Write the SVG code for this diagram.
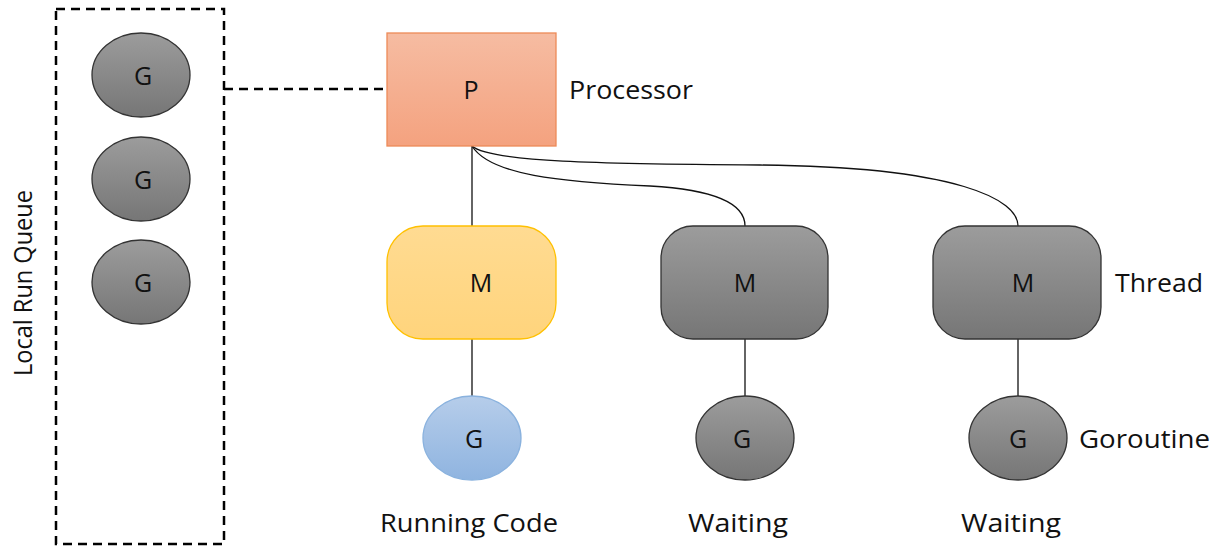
<svg xmlns="http://www.w3.org/2000/svg" width="1219" height="548" viewBox="0 0 1219 548">
<style>
text{font-family:"Open Sans","Noto Sans","Liberation Sans",sans-serif;fill:#111}
.in{font-size:25px;text-anchor:middle;dominant-baseline:central}
.lbl{font-size:25px;dominant-baseline:central}
.gray{fill:url(#gGray);stroke:#333;stroke-width:1.3}
.conn{fill:none;stroke:#111;stroke-width:1.3}
.dash{fill:none;stroke:#000;stroke-width:2.5;stroke-dasharray:9,6}
</style>
<defs>
<linearGradient id="gGray" x1="0" y1="0" x2="0" y2="1"><stop offset="0" stop-color="#9c9c9c"/><stop offset="1" stop-color="#767676"/></linearGradient>
<linearGradient id="gP" x1="0" y1="0" x2="0" y2="1"><stop offset="0" stop-color="#f6bca2"/><stop offset="1" stop-color="#f4a27f"/></linearGradient>
<linearGradient id="gY" x1="0" y1="0" x2="0" y2="1"><stop offset="0" stop-color="#ffdb92"/><stop offset="1" stop-color="#ffd47c"/></linearGradient>
<linearGradient id="gB" x1="0" y1="0" x2="0" y2="1"><stop offset="0" stop-color="#b6cdea"/><stop offset="1" stop-color="#8fb4e0"/></linearGradient>
</defs>
<g id="connectors">
<path class="dash" d="M224,89 H388"/>
<path class="conn" d="M472,146 V226"/>
<path class="conn" d="M472,146 C490,175 560,182 650,186 C720,190 745,205 745,226"/>
<path class="conn" d="M472,146 C490,162 600,164 760,165 C960,167 1018,200 1018,226"/>
<path class="conn" d="M472,339 V396"/>
<path class="conn" d="M745,339 V396"/>
<path class="conn" d="M1018,339 V396"/>
</g>
<g id="queue">
<rect class="dash" x="56" y="9" width="168" height="535"/>
<text class="lbl" transform="translate(22,283) rotate(-90)" text-anchor="middle" textLength="186" lengthAdjust="spacingAndGlyphs">Local Run Queue</text>
</g>
<g id="q1"><ellipse class="gray" cx="141" cy="75" rx="49" ry="42"/><text class="in" x="143" y="75">G</text></g>
<g id="q2"><ellipse class="gray" cx="141" cy="179" rx="49" ry="42"/><text class="in" x="143" y="179">G</text></g>
<g id="q3"><ellipse class="gray" cx="141" cy="282" rx="49" ry="42"/><text class="in" x="143" y="282">G</text></g>
<g id="P"><rect x="387" y="33" width="169" height="113" fill="url(#gP)" stroke="#ed8a58" stroke-width="1.3"/><text class="in" x="471" y="89">P</text><text class="lbl" x="569" y="89" textLength="124" lengthAdjust="spacingAndGlyphs">Processor</text></g>
<g id="M1"><rect x="387" y="226" width="169" height="113" rx="36" fill="url(#gY)" stroke="#ffc000" stroke-width="1.3"/><text class="in" x="481" y="282">M</text></g>
<g id="M2"><rect class="gray" x="661" y="226" width="167" height="113" rx="32"/><text class="in" x="745" y="282">M</text></g>
<g id="M3"><rect class="gray" x="933" y="226" width="168" height="113" rx="32"/><text class="in" x="1023" y="282">M</text><text class="lbl" x="1115" y="282" textLength="88" lengthAdjust="spacingAndGlyphs">Thread</text></g>
<g id="G1"><ellipse cx="472" cy="438" rx="49" ry="42" fill="url(#gB)" stroke="#8ab2de" stroke-width="1.3"/><text class="in" x="474" y="438">G</text><text class="in" x="469" y="522" textLength="178" lengthAdjust="spacingAndGlyphs">Running Code</text></g>
<g id="G2"><ellipse class="gray" cx="745" cy="438" rx="49" ry="42"/><text class="in" x="742" y="438">G</text><text class="in" x="738" y="522" textLength="100" lengthAdjust="spacingAndGlyphs">Waiting</text></g>
<g id="G3"><ellipse class="gray" cx="1018" cy="438" rx="49" ry="42"/><text class="in" x="1018" y="438">G</text><text class="lbl" x="1079" y="438" textLength="131" lengthAdjust="spacingAndGlyphs">Goroutine</text><text class="in" x="1011" y="522" textLength="100" lengthAdjust="spacingAndGlyphs">Waiting</text></g>
</svg>
